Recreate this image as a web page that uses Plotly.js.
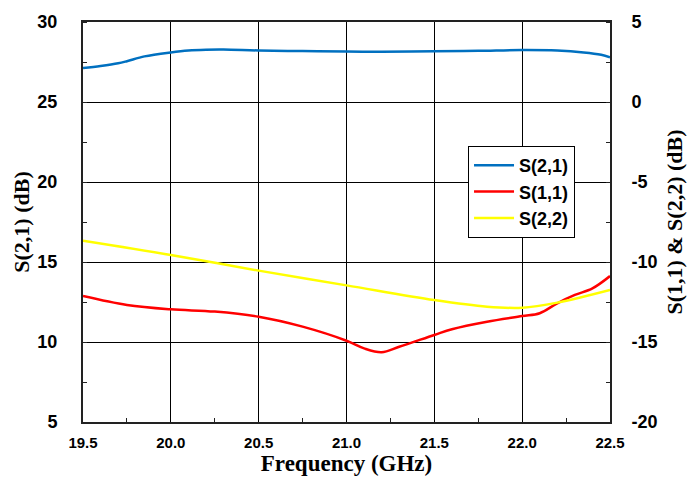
<!DOCTYPE html>
<html><head><meta charset="utf-8">
<script src="https://cdn.plot.ly/plotly-3.0.1.min.js"></script>
<style>html,body{margin:0;padding:0;background:#fff}#c{width:689px;height:480px}</style>
</head><body><div id="c"></div>
<script>
const freqS21 = [19.5, 19.6, 19.7, 19.75, 19.85, 20.0, 20.1, 20.2, 20.3, 20.5, 20.75, 21.0, 21.2, 21.5, 21.75, 22.0, 22.2, 22.35, 22.45, 22.5];
const s21 = [27.12, 27.25, 27.42, 27.55, 27.85, 28.1, 28.22, 28.27, 28.28, 28.22, 28.18, 28.15, 28.14, 28.17, 28.2, 28.25, 28.22, 28.1, 27.95, 27.8];

const freqS11 = [19.5, 19.75, 20.0, 20.25, 20.5, 20.75, 21.0, 21.1, 21.2, 21.3, 21.5, 21.6, 21.8, 22.0, 22.1, 22.2, 22.3, 22.4, 22.5];
const s11 = [-12.13, -12.69, -12.96, -13.1, -13.42, -14.04, -14.92, -15.4, -15.64, -15.3, -14.56, -14.2, -13.73, -13.38, -13.2, -12.58, -12.06, -11.65, -10.88];

const freqS22 = [19.5, 20.0, 20.5, 21.0, 21.5, 21.8, 22.0, 22.2, 22.5];
const s22 = [-8.67, -9.56, -10.54, -11.46, -12.38, -12.79, -12.86, -12.54, -11.75];

const leftTickVals = [5, 10, 15, 20, 25, 30];
const rightTickVals = [-20, -15, -10, -5, 0, 5];
const rightTickText = ['-20', '-15', '-10', '-5', '0', '5'];

const traces = [
  {x: freqS21, y: s21, name: 'S(2,1)', type: 'scatter', mode: 'lines', line: {color: '#0070C0', width: 2.5, shape: 'spline'}, yaxis: 'y'},
  {x: freqS11, y: s11, name: 'S(1,1)', type: 'scatter', mode: 'lines', line: {color: '#FF0000', width: 2.5, shape: 'spline'}, yaxis: 'y2'},
  {x: freqS22, y: s22, name: 'S(2,2)', type: 'scatter', mode: 'lines', line: {color: '#FFFF00', width: 2.5, shape: 'spline'}, yaxis: 'y2'}
];

const tickFont = {family: 'Liberation Sans, Arial', size: 18, color: '#000', weight: 'bold'};
const titleFont = {family: 'Liberation Serif, Times New Roman', size: 22, color: '#000', weight: 'bold'};
const layout = {
  width: 689, height: 480,
  margin: {l: 83, r: 79, t: 22, b: 57.5},
  paper_bgcolor: '#fff', plot_bgcolor: '#fff',
  showlegend: true,
  legend: {x: 0.7306, y: 0.69, xanchor: 'left', yanchor: 'top', bordercolor: '#000', borderwidth: 1, bgcolor: '#fff',
           font: {family: 'Liberation Sans, Arial', size: 18, color: '#000', weight: 'bold'}, tracegroupgap: 0, itemwidth: 40},
  xaxis: {range: [19.5, 22.5], dtick: 0.5, tick0: 19.5, tickformat: '.1f', showgrid: true, gridcolor: '#000', gridwidth: 1,
          showline: true, linecolor: '#222', linewidth: 2, mirror: true, ticks: '', zeroline: false,
          minor: {ticks: 'inside', ticklen: 4, dtick: 0.25, tickcolor: '#222', showgrid: false},
          tickfont: {family: 'Liberation Sans, Arial', size: 15, color: '#000', weight: 'bold'}, ticklabelstandoff: 6,
          title: {text: 'Frequency (GHz)', font: {family: 'Liberation Serif, Times New Roman', size: 23, color: '#000', weight: 'bold'}, standoff: 4}},
  yaxis: {range: [5, 30], tickvals: leftTickVals, showgrid: true, gridcolor: '#000', gridwidth: 1, showline: true, linecolor: '#222', linewidth: 2,
          ticks: '', zeroline: false, minor: {ticks: 'inside', ticklen: 4, dtick: 2.5, tickcolor: '#222', showgrid: false},
          tickfont: tickFont, ticklabelstandoff: 20,
          title: {text: 'S(2,1) (dB)', font: titleFont, standoff: 2}},
  yaxis2: {range: [-20, 5], tickvals: rightTickVals, ticktext: rightTickText, overlaying: 'y', side: 'right', showgrid: false, showline: true, linecolor: '#222', linewidth: 2,
           ticks: '', zeroline: false, minor: {ticks: 'inside', ticklen: 4, dtick: 2.5, tickcolor: '#222', showgrid: false},
           tickfont: tickFont, ticklabelstandoff: 16,
           title: {text: 'S(1,1) & S(2,2) (dB)', font: titleFont, standoff: 10}}
};
Plotly.newPlot('c', traces, layout, {staticPlot: true, displayModeBar: false});
</script></body></html>
